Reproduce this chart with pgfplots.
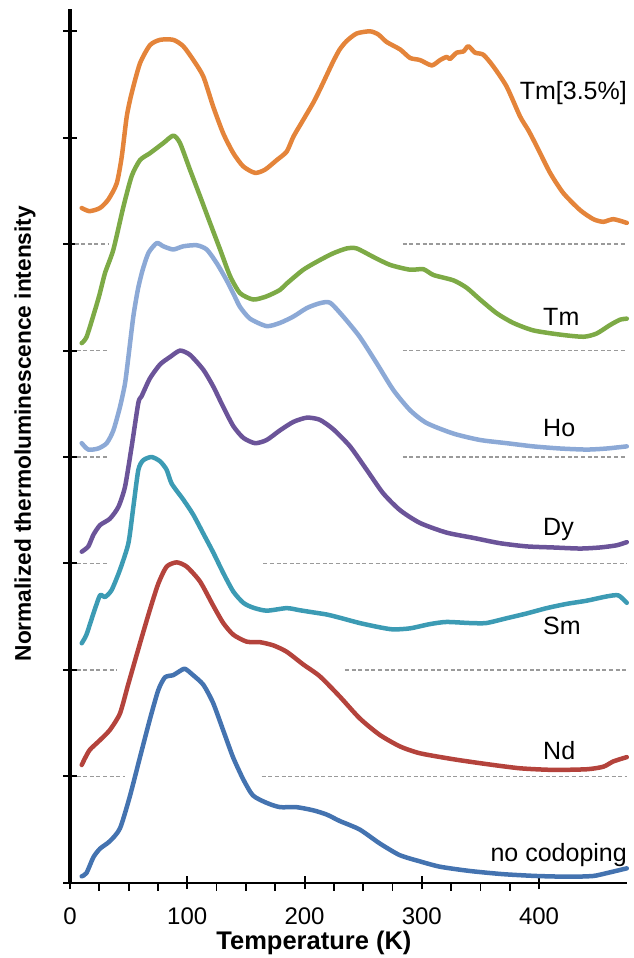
\documentclass[border=0pt]{standalone}
\usepackage{fontspec}
\setmainfont{Liberation Sans}
\usepackage{pgfplots}
\pgfplotsset{compat=1.18}

\definecolor{cNone}{HTML}{4473B0}
\definecolor{cNd}{HTML}{B4433C}
\definecolor{cSm}{HTML}{3C9BB4}
\definecolor{cDy}{HTML}{6B5499}
\definecolor{cHo}{HTML}{8CA9D6}
\definecolor{cTm}{HTML}{7DAA46}
\definecolor{cTmH}{HTML}{E4843A}
\definecolor{cDash}{HTML}{9A9A9A}

\tikzset{
  lbl/.style={inner sep=0pt, font=\fontsize{25}{30}\selectfont},
  curve/.style={line width=4.5pt, line cap=round, line join=round, smooth, tension=0.4},
  base/.style={cDash, line width=1.5pt, dash pattern=on 4pt off 2.6pt, sharp plot},
}

\begin{document}
\begin{tikzpicture}
\path[use as bounding box] (0,0) rectangle (634pt,958pt);
\begin{axis}[
  at={(70pt,75.3pt)}, anchor=south west,
  scale only axis, width=557pt, height=873.7pt,
  xmin=0, xmax=475, ymin=0, ymax=8.21,
  axis x line*=bottom, axis y line*=left,
  x axis line style={line width=2pt, -},
  y axis line style={line width=3.3pt, -},
  xtick={0,100,...,400}, minor x tick num=3,
  ytick={0,1,...,8}, yticklabels={},
  tick align=center,
  major tick length=13pt, minor tick length=8pt,
  every major tick/.append style={line width=2pt, black},
  every minor tick/.append style={line width=1.8pt, black, yshift=-4pt},
  tick label style={font=\fontsize{24}{28}\selectfont},
  /pgf/number format/assume math mode=true,
  xticklabel style={anchor=base, inner sep=0pt, yshift=-34.8pt},
  xlabel={Temperature (K)},
  ylabel={Normalized thermoluminescence intensity},
  xlabel style={font=\bfseries\fontsize{25.5}{30}\selectfont, inner sep=0pt, at={(axis description cs:0.438,-0.0762)}, anchor=base},
  ylabel style={font=\bfseries\fontsize{22.7}{26}\selectfont, at={(axis description cs:-0.0808,0.514)}, anchor=center},
  clip=false,
  no markers,
]

% baselines of the offset curves
\addplot[base] coordinates {(4,6) (32.4,6)};
\addplot[base] coordinates {(283.8,6) (475,6)};
\addplot[base] coordinates {(5.7,5) (32.4,5)};
\addplot[base] coordinates {(283.8,5) (475,5)};
\addplot[base] coordinates {(5.7,4) (32.4,4)};
\addplot[base] coordinates {(283.8,4) (475,4)};
\addplot[base] coordinates {(5.7,3) (32.4,3)};
\addplot[base] coordinates {(164.9,3) (475,3)};
\addplot[base] coordinates {(5.7,2) (39.8,2)};
\addplot[base] coordinates {(234.5,2) (475,2)};
\addplot[base] coordinates {(5.7,1) (46.9,1)};
\addplot[base] coordinates {(163.5,1) (475,1)};

% no codoping (offset 0)
\addplot[curve, cNone] coordinates {
(10,0.06) (14,0.09) (20,0.24) (25.6,0.32) (34,0.39) (42.6,0.51) (51,0.81)
(59.7,1.18) (68,1.53) (75.3,1.81) (81,1.93) (88,1.95) (92.4,1.98) (98,2.01)
(105,1.95) (113.7,1.86) (122,1.69) (130.7,1.43) (139,1.18) (147.8,0.97)
(156,0.82) (167.7,0.75) (179,0.71) (193,0.71) (207.5,0.68) (219,0.64)
(230,0.58) (247,0.50) (264,0.37) (281,0.26) (298.5,0.20) (315.6,0.15)
(341,0.11) (369.6,0.08) (398,0.063) (426,0.056) (446,0.063) (457.7,0.09)
(474.8,0.135)};

% Nd (offset 1)
\addplot[curve, cNd] coordinates {
(10,1.106) (12.8,1.17) (17,1.25) (25.6,1.34) (34,1.435) (42.6,1.59)
(49.8,1.87) (59.7,2.25) (68,2.56) (75.3,2.81) (82.4,2.97) (91,3.01)
(99.5,2.97) (110.9,2.83) (122.3,2.60) (130.7,2.44) (139.3,2.33)
(150.7,2.265) (162,2.26) (173.4,2.23) (184.8,2.17) (199,2.05) (213,1.94)
(230,1.75) (247,1.545) (264,1.39) (281.5,1.28) (298.5,1.216) (327,1.16)
(355,1.115) (383.8,1.075) (412,1.06) (440.7,1.066) (454.8,1.09)
(463.4,1.14) (474.8,1.18)};

% Sm (offset 2)
\addplot[curve, cSm] coordinates {
(10,2.25) (14,2.33) (20,2.53) (25.6,2.70) (29.9,2.685) (35.5,2.75)
(42.6,2.94) (49.8,3.19) (54,3.53) (58.3,3.88) (62.5,3.97) (69.6,4.00)
(76.8,3.96) (82.4,3.88) (86.7,3.75) (96.6,3.60) (105,3.46) (113.7,3.28)
(122.3,3.10) (130.7,2.91) (139.3,2.735) (147.8,2.63) (156,2.585)
(167.7,2.556) (184.8,2.58) (196,2.56) (207.5,2.54) (219,2.52) (230,2.49)
(247,2.44) (264,2.40) (275.7,2.38) (290,2.39) (307,2.43) (321,2.45)
(341,2.44) (355,2.44) (372.4,2.485) (389.5,2.53) (406.5,2.58)
(423.6,2.62) (440.7,2.65) (457.7,2.69) (467.6,2.70) (474.8,2.63)};

% Dy (offset 3)
\addplot[curve, cDy] coordinates {
(10,3.11) (15.6,3.16) (20,3.27) (25.6,3.36) (34,3.42) (41.2,3.53)
(46.9,3.72) (52.6,4.10) (58.3,4.51) (61,4.57) (68.2,4.74) (76.8,4.87)
(85.3,4.94) (93.8,5.00) (102.3,4.96) (113.7,4.82) (122.3,4.66)
(130.7,4.47) (139.3,4.29) (147.8,4.18) (157.8,4.13) (167.7,4.16)
(179,4.25) (190.5,4.33) (202,4.37) (213,4.35) (224.6,4.26) (238.8,4.10)
(253,3.88) (267,3.66) (281.5,3.50) (298.5,3.38) (321,3.29) (344,3.24)
(366.7,3.19) (389.5,3.16) (412,3.15) (435,3.14) (452,3.15) (466,3.17)
(474.8,3.20)};

% Ho (offset 4)
\addplot[curve, cHo] coordinates {
(10,4.13) (15.6,4.07) (24,4.08) (31.3,4.13) (37,4.25) (42.6,4.47)
(46.9,4.69) (49.8,4.94) (54,5.32) (58,5.58) (62,5.76) (67,5.92) (74,6.01)
(79.6,5.98) (88,5.95) (96.6,5.98) (108,5.99) (116.6,5.95) (125.2,5.82)
(133.6,5.66) (140,5.52) (145,5.41) (153.5,5.30) (167.7,5.23) (179,5.26)
(190.5,5.32) (202,5.40) (213,5.445) (221.7,5.45) (233,5.32) (247,5.13)
(261.6,4.88) (275.7,4.63) (290,4.44) (304,4.32) (327,4.22) (349.7,4.16)
(372.4,4.13) (395,4.10) (418,4.08) (440.7,4.07) (457.7,4.08) (474.8,4.10)};

% Tm (offset 5)
\addplot[curve, cTm] coordinates {
(10,5.07) (14.2,5.13) (21.3,5.38) (25,5.52) (29.9,5.73) (37,5.95)
(45.5,6.35) (52.6,6.64) (59.7,6.79) (68.2,6.855) (79.6,6.95) (88.1,7.02)
(93.8,6.95) (102.3,6.70) (110.9,6.45) (119.4,6.20) (128,5.95)
(136.5,5.70) (145,5.54) (156.3,5.48) (167.7,5.51) (179,5.57) (184.8,5.63)
(199,5.76) (213,5.85) (224.6,5.915) (236,5.96) (244.5,5.96) (258.7,5.88)
(273,5.805) (290,5.76) (301.3,5.765) (310,5.71) (327,5.66) (338.3,5.59)
(349.7,5.48) (364,5.35) (378,5.26) (395,5.19) (418,5.15) (437.8,5.13)
(449,5.16) (460.5,5.24) (469,5.29) (474.8,5.30)};

% Tm 3.5% (offset 6)
\addplot[curve, cTmH] coordinates {
(10,6.34) (16.6,6.31) (25.6,6.34) (32.7,6.42) (39.8,6.57) (44.1,6.82)
(48.4,7.20) (52.6,7.42) (59.7,7.70) (68.2,7.87) (76.8,7.92) (88.1,7.92)
(96.6,7.86) (105.2,7.73) (113.7,7.575) (122.2,7.29) (130.7,7.04)
(139.3,6.855) (147.8,6.73) (157.8,6.67) (166.3,6.70) (176.3,6.79)
(184.8,6.87) (190.5,7.01) (199,7.17) (207.5,7.33) (213,7.45) (219,7.59)
(224.6,7.72) (230,7.83) (236,7.91) (244.5,7.98) (255.9,8.00) (263,7.97)
(270,7.90) (281.5,7.83) (290,7.75) (298.5,7.73) (308.5,7.68) (315.6,7.73)
(321.3,7.76) (324,7.74) (329.8,7.80) (335.4,7.81) (339.7,7.86)
(345.4,7.80) (352.5,7.78) (361,7.67) (372.4,7.48) (383.8,7.20)
(390.9,7.07) (398,6.92) (409.4,6.67) (420.7,6.48) (435,6.32)
(446.3,6.235) (454.8,6.21) (463.4,6.235) (474.8,6.20)};

% curve names
\node[lbl, anchor=base east] at (axis cs:475,7.356) {Tm[3.5\%]};
\node[lbl, anchor=base west] at (axis cs:403.4,5.24) {Tm};
\node[lbl, anchor=base west] at (axis cs:403.4,4.19) {Ho};
\node[lbl, anchor=base west] at (axis cs:403.4,3.26) {Dy};
\node[lbl, anchor=base west] at (axis cs:403.4,2.335) {Sm};
\node[lbl, anchor=base west] at (axis cs:403.4,1.153) {Nd};
\node[lbl, anchor=base east] at (axis cs:475,0.197) {no codoping};
\end{axis}
\end{tikzpicture}
\end{document}
